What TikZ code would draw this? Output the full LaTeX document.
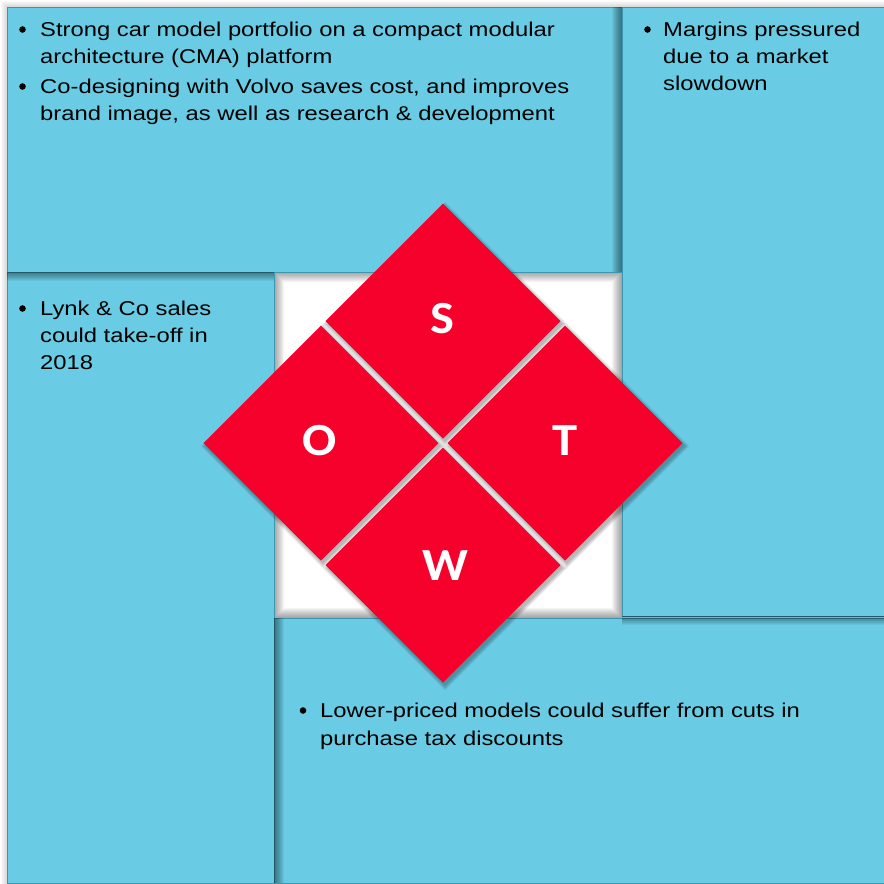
\documentclass[tikz,border=0pt]{standalone}
\usepackage{fontspec}
\setmainfont{Liberation Sans}[FakeStretch=1.19]
\newfontfamily\swotfont{Carlito}[FakeStretch=1.1]
\definecolor{boxblue}{RGB}{106,204,228}
\definecolor{boxedge}{RGB}{60,150,176}
\definecolor{swotred}{RGB}{246,0,44}
\tikzset{
  panel/.style={fill=boxblue, draw=boxedge, line width=0.8pt},
  txtline/.style={anchor=base west, inner sep=0pt, font=\fontsize{20}{27}\selectfont, text=black},
  bul/.style={circle, fill=black, inner sep=0pt, minimum size=6.6pt},
  petal/.style={fill=swotred, draw=none},
  petalshadow/.style={fill=black, opacity=0.05},
  shade/.style={fill=black, opacity=0.05},
  letter/.style={text=white, inner sep=0pt, font=\swotfont\bfseries\fontsize{46}{46}\selectfont}
}
\newcommand\swotpetal[3]{%
  \foreach \e in {0,...,5}{\fill[petalshadow] (#1+2,#2+3-#3-\e) -- (#1+2+#3+\e,#2+3) -- (#1+2,#2+3+#3+\e) -- (#1+2-#3-\e,#2+3) -- cycle;}
  \fill[petal] (#1,#2-#3) -- (#1+#3,#2) -- (#1,#2+#3) -- (#1-#3,#2) -- cycle;
}
\begin{document}
\begin{tikzpicture}[x=1pt,y=-1pt]
\useasboundingbox (0,0) rectangle (884,884);
\fill[white] (0,0) rectangle (884,884);
% soft outer shadow
\foreach \i in {1,...,6}{\fill[black,opacity=0.025,even odd rule] (7-\i,7-\i) rectangle (886,886) (7,7) rectangle (886,886);}
% inner shadow of the central hole
\foreach \i in {1,...,10}{\fill[black,opacity=0.04,even odd rule] (274,272) rectangle (622,618) (274+\i,272+\i) rectangle (622-\i,618-\i);}
% panels
\path[panel] (274,618) rectangle (886,883);
\path[panel] (7,270) rectangle (274,883);
\foreach \k in {1,...,10}{\fill[shade] (274.4,618.4) rectangle (274.4+\k,882.6);}
\path[panel] (7,7) rectangle (640,272);
\foreach \k in {1,...,9}{\fill[shade] (7.4,272.4) rectangle (273.6,272.4+\k);}
\path[panel] (622,7) rectangle (886,616);
\foreach \k in {1,...,10}{\fill[shade] (621.6-\k,7.4) rectangle (621.6,271.6);}
\foreach \k in {1,...,9}{\fill[shade] (622.4,616.4) rectangle (885,616.4+\k);}
% SWOT diamond
\swotpetal{443}{321}{117.5}
\swotpetal{321}{443}{117.5}
\swotpetal{565}{443}{117.5}
\swotpetal{443}{565}{117.5}
\node[letter] (lS) at (442,319) {S};
\node[letter] (lO) at (320,441) {O};
\node[letter] (lT) at (565,441) {T};
\node[letter] (lW) at (445,566) {W};
% Strengths text
\node[bul] (bs1) at (22.5,29.5) {};
\node[txtline] (s1a) at (40,36) {Strong car model portfolio on a compact modular};
\node[txtline] (s1b) at (40,63) {architecture (CMA) platform};
\node[bul] (bs2) at (22.5,86.5) {};
\node[txtline] (s2a) at (40,93) {Co-designing with Volvo saves cost, and improves};
\node[txtline] (s2b) at (40,120) {brand image, as well as research \& development};
% Threats text
\node[bul] (bt1) at (647.5,29.5) {};
\node[txtline] (t1a) at (663,36) {Margins pressured};
\node[txtline] (t1b) at (663,63) {due to a market};
\node[txtline] (t1c) at (663,90) {slowdown};
% Opportunities text
\node[bul] (bo1) at (22.5,308.5) {};
\node[txtline] (o1a) at (40,315) {Lynk \& Co sales};
\node[txtline] (o1b) at (40,342) {could take-off in};
\node[txtline] (o1c) at (40,369) {2018};
% Weaknesses text
\node[bul] (bw1) at (303,710.5) {};
\node[txtline] (w1a) at (320,717) {Lower-priced models could suffer from cuts in};
\node[txtline] (w1b) at (320,745) {purchase tax discounts};
\end{tikzpicture}
\end{document}
